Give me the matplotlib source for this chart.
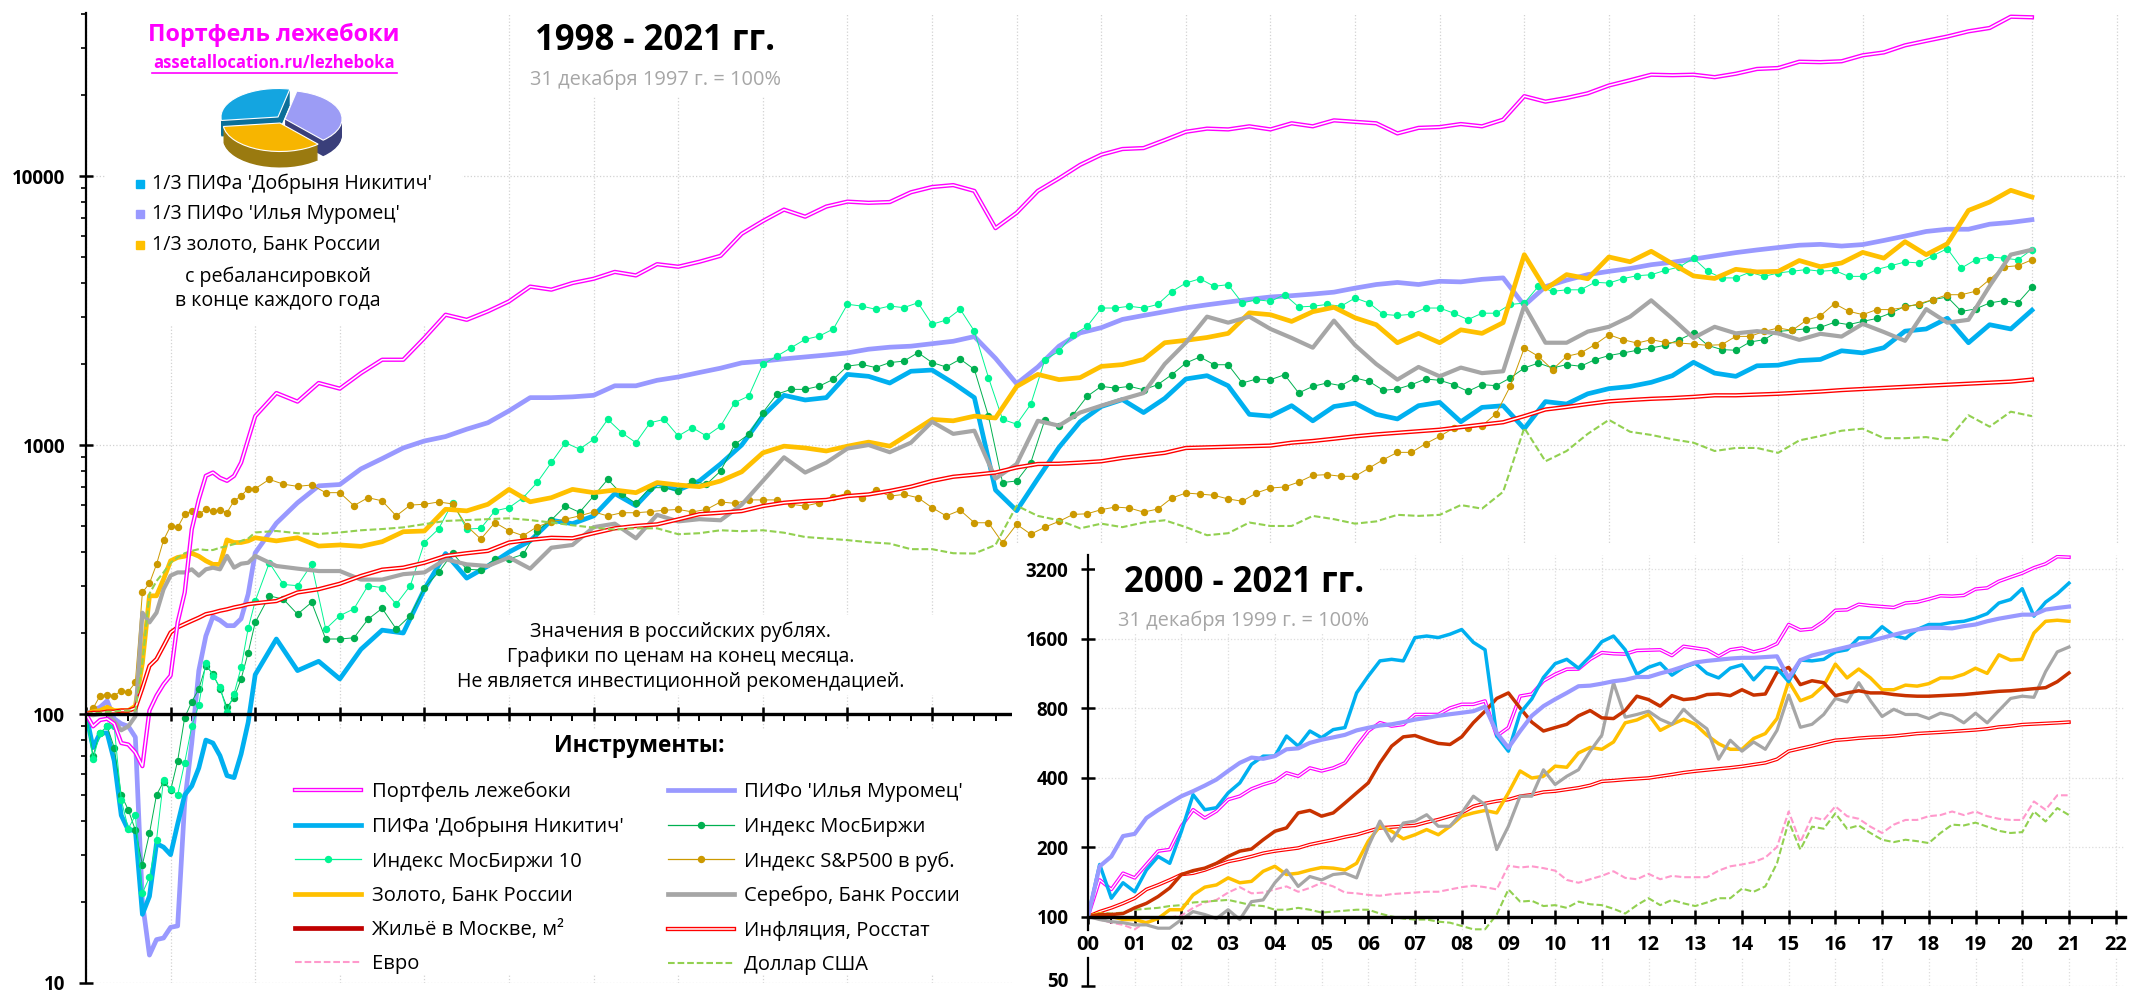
import matplotlib
matplotlib.use("Agg")
import matplotlib.pyplot as plt
import matplotlib.patheffects as pe
from matplotlib.lines import Line2D
from matplotlib.patches import Rectangle, Wedge
from matplotlib.ticker import LogLocator, MultipleLocator, NullFormatter
from matplotlib.transforms import Affine2D, blended_transform_factory

plt.rcParams["font.family"] = ["Open Sans", "DejaVu Sans"]

W, H = 2130, 994

# ---- main panel: monthly 1998-99, then quarterly (lines) or every 2 months (marker lines)
months_q = list(range(25)) + list(range(27, 277, 3))
months_m = list(range(25)) + list(range(26, 277, 2))

portfolio = [100, 90, 95, 96, 92, 78, 77, 72, 64, 103, 117, 129, 139, 219, 283, 486, 628, 768, 790, 755, 736, 768, 860, 1050, 1280,
    1560, 1450, 1700, 1620,  1850, 2075, 2075, 2500,  3050, 2920, 3140, 3420,  3880, 3780, 4000, 4150,
    4400, 4270, 4700, 4600,  4800, 5050, 6100, 6800,  7500, 7060, 7700, 8030,  7950, 8000, 8700, 9100,
    9250, 8800, 6400, 7300,  8800, 9800, 11000, 12000,  12600, 12700, 13600, 14600,  15000, 14900, 15300, 14900,
    15700, 15300, 16100, 15900,  15700, 14400, 15100, 15200,  15600, 15300, 16200, 19800,  18900, 19500, 20300, 21700,
    22700, 23800, 23700, 23800,  23300, 24000, 25000, 25200,  26600, 26500, 26700, 28100,  28800, 30600, 31800, 33000,
    34500, 35500, 39100, 38900]
muromets = [100, 103, 106, 112, 96, 92, 90, 82, 20, 12.7, 14.5, 14.7, 16.1, 16.3, 47, 78, 145, 195, 230, 223, 213, 213, 226, 279, 397,
    512, 610, 705, 713,  815, 890, 975, 1035,  1075, 1145, 1210, 1340,  1500, 1500, 1510, 1530,
    1660, 1660, 1740, 1790,  1860, 1930, 2020, 2050,  2090, 2125, 2160, 2200,  2270, 2310, 2330, 2380,
    2430, 2530, 2100, 1690,  1950, 2330, 2610, 2730,  2930, 3030, 3130, 3235,  3320, 3400, 3480, 3550,
    3590, 3640, 3700, 3830,  3950, 4020, 3950, 4060,  4040, 4130, 4180, 3300,  3880, 4100, 4300, 4420,
    4530, 4680, 4780, 4910,  5050, 5190, 5310, 5420,  5530, 5570, 5490, 5560,  5760, 5980, 6220, 6340,
    6340, 6620, 6720, 6880]
dobrynya = [100, 75, 85, 85, 67, 42, 37, 37, 18, 21, 33, 32, 30, 39, 50, 54, 63, 80, 78, 70, 59, 58, 71, 93, 140,
    190, 145, 157, 135,  174, 205, 200, 291,  395, 320, 355, 400,  440, 525, 510, 545,
    660, 595, 720, 680,  735, 850, 1000, 1280,  1530, 1470, 1500, 1830,  1800, 1700, 1880, 1900,
    1700, 1500, 680, 570,  750, 980, 1220, 1390,  1475, 1320, 1490, 1760,  1810, 1660, 1300, 1280,
    1400, 1230, 1390, 1430,  1300, 1250, 1400, 1440,  1220, 1380, 1400, 1150,  1450, 1420, 1550, 1620,
    1650, 1710, 1810, 2030,  1850, 1800, 1970, 1980,  2060, 2080, 2240, 2200,  2300, 2650, 2700, 2960,
    2400, 2800, 2700, 3170]
gold = [100, 102, 103, 106, 103, 103, 103, 107, 155, 275, 275, 317, 371, 382, 386, 396, 386, 371, 360, 360, 444, 434, 434, 440, 452,
    440, 452, 421, 425,  420, 437, 476, 479,  577, 569, 602, 684,  615, 637, 684, 665,
    680, 665, 725, 710,  700, 735, 795, 935,  990, 975, 950, 990,  1025, 990, 1110, 1245,
    1230, 1280, 1260, 1650,  1830, 1750, 1780, 1960,  1990, 2080, 2400, 2450,  2510, 2600, 3100, 3050,
    2880, 3130, 3250, 2970,  2800, 2400, 2600, 2400,  2680, 2600, 2850, 5100,  3800, 4300, 4150, 5000,
    4800, 5250, 4720, 4250,  4160, 4500, 4400, 4420,  4850, 4600, 4750, 5200,  4950, 5700, 5100, 5600,
    7450, 8000, 8850, 8350]
silver = [100, 99, 100, 100, 94, 87, 90, 98, 238, 219, 238, 291, 327, 336, 336, 345, 327, 345, 350, 345, 387, 350, 362, 365, 387,
    355, 347, 340, 340,  316, 316, 331, 336,  376, 360, 355, 382,  347, 415, 425, 495,
    510, 450, 550, 520,  530, 525, 600, 735,  900, 790, 860, 970,  1000, 940, 1020, 1220,
    1100, 1130, 750, 850,  1230, 1180, 1320, 1400,  1480, 1560, 2000, 2400,  3000, 2850, 3000, 2700,
    2500, 2300, 2900, 2350,  2000, 1750, 1950, 1800,  1940, 1850, 1880, 3300,  2400, 2400, 2640, 2750,
    3000, 3450, 2950, 2500,  2750, 2600, 2650, 2600,  2460, 2590, 2530, 2820,  2630, 2440, 3200, 2850,
    2920, 3900, 5100, 5320]
inflation = [100, 101, 101, 102, 102, 103, 103, 105, 125, 151, 160, 179, 201, 210, 216, 222, 228, 235, 238, 242, 245, 249, 252, 256, 258,
    263, 283, 291, 305,  326, 344, 350, 365,  387, 396, 404, 434,  444, 452, 450, 470,
    490, 500, 507, 529,  553, 560, 568, 593,  610, 619, 625, 646,  655, 675, 700, 735,
    762, 775, 790, 825,  850, 852, 860, 870,  895, 915, 935, 975,  980, 985, 990, 995,
    1020, 1035, 1055, 1077,  1095, 1110, 1125, 1140,  1165, 1190, 1215, 1280,  1355, 1385, 1420, 1453,
    1470, 1485, 1495, 1510,  1530, 1530, 1540, 1550,  1565, 1580, 1600, 1615,  1630, 1645, 1660, 1675,
    1690, 1705, 1720, 1750]
dollar = [100, 101, 101, 102, 102, 103, 103, 103, 155, 280, 312, 336, 365, 382, 396, 404, 410, 407, 407, 415, 421, 428, 440, 449, 473,
    479, 470, 467, 473,  482, 487, 494, 508,  522, 526, 530, 534,  526, 515, 503, 493,
    485, 490, 490, 466,  470, 482, 478, 482,  472, 455, 449, 443,  435, 430, 410, 410,
    396, 395, 425, 595,  545, 525, 490, 510,  495, 515, 525, 495,  462, 470, 515, 500,
    500, 545, 530, 510,  520, 550, 545, 550,  598, 580, 670, 1157,  870, 950, 1100, 1240,
    1120, 1090, 1050, 1020,  950, 975, 975, 935,  1040, 1080, 1130, 1150,  1060, 1060, 1070, 1040,
    1290, 1170, 1330, 1280]
sp500 = [100, 105, 117, 118, 117, 122, 121, 131, 283, 306, 360, 443, 500, 494, 552, 569, 552, 577, 569, 572, 561, 620, 647, 688, 688,
    745, 715, 702, 710, 665, 665,  595, 637, 620, 545, 598, 602,  614, 604, 500, 447, 515, 480,
    460, 497, 519, 530, 545, 564,  545, 560, 560, 565, 572, 576,  564, 576, 614, 607, 625, 625,
    625, 602, 593, 610, 641, 661,  637, 681, 646, 655, 637, 585,  545, 572, 514, 514, 433, 507,
    466, 495, 520, 552, 555, 575,  588, 583, 563, 578, 635, 663,  657, 650, 630, 618, 663, 692,
    698, 728, 771, 776, 765, 765,  821, 882, 939, 939, 1011, 1077,  1156, 1156, 1179, 1307, 1652, 2294,
    2136, 1906, 2136, 2197, 2360, 2570,  2463, 2393, 2463, 2408, 2393, 2372,  2347, 2360, 2534, 2534, 2644, 2722,
    2669, 2907, 3023, 3354, 3141, 3053,  3187, 3187, 3248, 3354, 3473, 3620,  3620, 3728, 4123, 4590, 4640, 4880]
micex = [100, 70, 85, 90, 75, 50, 44, 37, 27.5, 36, 50, 56, 52, 67, 97, 111, 124, 151, 141, 124, 106, 115, 135, 169, 219,
    275, 267, 235, 260, 190, 190,  192, 225, 247, 207, 232, 295,  336, 396, 345, 343, 377, 377,
    392, 480, 526, 594, 562, 646,  745, 656, 607, 694, 694, 674,  735, 714, 800, 1005, 1095, 1320,
    1545, 1610, 1610, 1655, 1755, 1965,  1995, 1940, 2025, 2050, 2205, 2025,  1950, 2085, 1910, 1280, 725, 735,
    860, 1242, 1173, 1296, 1517, 1652,  1627, 1652, 1605, 1676, 1825, 2017,  2125, 1988, 1988, 1700, 1759, 1749,
    1825, 1561, 1652, 1700, 1662, 1775,  1723, 1597, 1615, 1676, 1759, 1740,  1676, 1583, 1676, 1662, 1775, 1933,
    2017, 1933, 1990, 1962, 2075, 2150,  2198, 2250, 2295, 2348, 2463, 2608,  2348, 2263, 2250, 2415, 2463, 2645,
    2670, 2705, 2737, 2858, 2802, 2881,  2954, 3095, 3280, 3325, 3472, 3550,  3138, 3205, 3372, 3442, 3372, 3866]
micex10 = [100, 68, 85, 90, 90, 48, 37.5, 42, 21.6, 24.7, 34, 57, 52.5, 50, 66, 90, 108, 155, 139, 126, 102, 119, 149, 208, 263,
    365, 303, 300, 360, 207, 232,  246, 300, 295, 256, 300, 434,  487, 611, 487, 490, 569, 585,
    637, 726, 861, 1020, 965, 1050,  1245, 1110, 1020, 1210, 1245, 1080,  1160, 1080, 1175, 1437, 1520, 1995,
    2140, 2300, 2470, 2540, 2700, 3335,  3285, 3195, 3285, 3240, 3380, 2810,  2915, 3195, 2650, 1780, 1245, 1195,
    1417, 2075, 2230, 2570, 2760, 3230,  3230, 3280, 3230, 3330, 3720, 4000,  4150, 3890, 3945, 3370, 3470, 3420,
    3620, 3260, 3280, 3330, 3280, 3520,  3370, 3060, 3030, 3060, 3230, 3230,  3090, 2925, 3090, 3090, 3330, 3370,
    3890, 3725, 3775, 3775, 4025, 4000,  4155, 4260, 4295, 4460, 4590, 4950,  4425, 4180, 4180, 4390, 4235, 4360,
    4425, 4490, 4425, 4460, 4235, 4235,  4490, 4640, 4790, 4750, 5060, 5370,  4550, 4880, 5000, 4950, 4880, 5330]

# ---- inset: quarterly from 31 Dec 1999
quarters = list(range(85))
i_portfolio = [100, 144, 131, 154, 147,  168, 192, 195, 246,  290, 267, 286, 321,  332, 357, 373, 386,
    419, 405, 440, 427,  440, 463, 547, 636,  691, 668, 679, 750,  750, 750, 800, 830,
    830, 858, 605, 658,  901, 919, 1048, 1120,  1178, 1180, 1300, 1390,  1375, 1370, 1420, 1425,
    1430, 1350, 1480, 1455,  1430, 1340, 1430, 1455,  1400, 1440, 1520, 1840,  1740, 1760, 1900, 2120,
    2130, 2250, 2220, 2200,  2180, 2280, 2300, 2370,  2450, 2440, 2460, 2620,  2650, 2830, 2950, 3070,
    3240, 3370, 3620, 3600]
i_muromets = [100, 165, 182, 223, 228,  267, 289, 310, 332,  349, 369, 392, 427,  463, 488, 482, 495,
    530, 535, 565, 583,  597, 612, 640, 657,  672, 680, 695, 713,  725, 740, 752, 763,
    775, 811, 625, 538,  635, 740, 815, 873,  930, 994, 1000, 1020,  1045, 1060, 1090, 1090,
    1130, 1165, 1210, 1260,  1280, 1295, 1310, 1320,  1320, 1330, 1340, 1080,  1290, 1350, 1390, 1430,
    1470, 1510, 1560, 1610,  1660, 1710, 1750, 1780,  1780, 1770, 1810, 1840,  1900, 1950, 1990, 2030,
    2030, 2135, 2170, 2200]
i_dobrynya = [100, 168, 120, 140, 128,  159, 182, 170, 234,  337, 290, 296, 343,  379, 456, 495, 495,
    605, 547, 636, 595,  645, 658, 930, 1100,  1280, 1300, 1280, 1615,  1640, 1615, 1670, 1750,
    1540, 1430, 605, 520,  760, 875, 1085, 1245,  1300, 1190, 1340, 1550,  1640, 1430, 1120, 1200,
    1250, 1110, 1200, 1250,  1130, 1080, 1190, 1230,  1060, 1200, 1190, 1040,  1290, 1280, 1300, 1400,
    1430, 1610, 1610, 1800,  1650, 1600, 1750, 1840,  1840, 1880, 1900, 1960,  2050, 2280, 2360, 2630,
    2000, 2300, 2500, 2780]
i_gold = [100, 103, 100, 97, 97,  94, 98, 107, 107,  124, 134, 137, 147,  140, 142, 157, 165,
    152, 154, 159, 163,  162, 159, 170, 212,  246, 234, 217, 226,  238, 226, 246, 272,
    281, 288, 281, 343,  427, 398, 405, 448,  443, 511, 540, 530,  570, 690, 710, 750,
    640, 680, 715, 680,  610, 560, 530, 530,  590, 620, 720, 1045,  860, 900, 1000, 1240,
    1080, 1180, 1080, 960,  960, 1005, 995, 1020,  1080, 1080, 1120, 1190,  1130, 1360, 1290, 1300,
    1690, 1900, 1920, 1900]
i_silver = [100, 97, 95, 94, 92,  92, 89, 89, 97,  105, 102, 98, 107,  97, 116, 118, 140,
    159, 135, 149, 144,  152, 154, 147, 201,  259, 212, 254, 259,  276, 246, 246, 281,
    332, 305, 195, 246,  332, 332, 432, 373,  405, 432, 520, 610,  1030, 730, 750, 775,
    715, 680, 790, 710,  650, 480, 580, 520,  570, 530, 640, 910,  660, 680, 750, 880,
    850, 1030, 860, 735,  790, 750, 750, 720,  760, 740, 690, 760,  690, 780, 880, 900,
    890, 1150, 1400, 1470]
i_housing = [100, 102, 102, 103, 109,  114, 122, 133, 152,  158, 162, 170, 182,  192, 196, 215, 234,
    242, 281, 288, 272,  281, 310, 343, 379,  463, 547, 600, 608,  583, 562, 556, 600,
    691, 775, 880, 930,  800, 695, 636, 658,  680, 740, 780, 725,  720, 780, 900, 870,
    815, 905, 870, 880,  915, 920, 905, 960,  910, 920, 1140, 1200,  1010, 1050, 1030, 905,
    930, 950, 930, 930,  915, 905, 900, 900,  905, 910, 915, 925,  935, 945, 950, 960,
    970, 980, 1040, 1135]
i_inflation = [100, 105, 109, 114, 120,  131, 137, 144, 152,  154, 159, 166, 173,  177, 182, 188, 192,
    195, 198, 205, 210,  215, 221, 226, 234,  242, 244, 246, 248,  256, 263, 272, 281,
    300, 309, 316, 321,  332, 337, 346, 349,  355, 361, 370, 385,  388, 392, 395, 398,
    405, 412, 420, 426,  431, 436, 441, 447,  455, 463, 480, 520,  534, 548, 565, 580,
    585, 592, 597, 600,  605, 612, 620, 624,  628, 633, 638, 643,  650, 662, 668, 678,
    682, 686, 690, 695]
i_euro = [100, 97, 94, 92, 88,  95, 98, 99, 101,  109, 115, 118, 127,  134, 126, 127, 131,
    135, 128, 133, 140,  135, 127, 126, 124,  123, 125, 126, 127,  128, 128, 131, 134,
    136, 134, 131, 166,  163, 165, 162, 158,  144, 140, 145, 150,  157, 147, 145, 153,
    145, 150, 148, 148,  148, 158, 165, 168,  172, 180, 200, 285,  210, 270, 262, 300,
    272, 265, 245, 230,  250, 262, 262, 272,  275, 285, 275, 285,  272, 265, 262, 262,
    315, 290, 335, 335]
i_dollar = [100, 104, 103, 104, 107,  108, 109, 111, 112,  115, 116, 117, 118,  115, 112, 111, 107,
    107, 109, 107, 104,  105, 106, 107, 107,  103, 100, 98, 97,  97, 95, 94, 91,
    88, 88, 102, 131,  116, 117, 111, 112,  109, 116, 113, 112,  108, 103, 112, 120,
    112, 118, 114, 111,  115, 120, 120, 132,  128, 135, 170, 258,  195, 245, 240, 280,
    240, 248, 230, 215,  210, 215, 212, 208,  230, 250, 248, 255,  245, 235, 230, 232,
    285, 258, 295, 275]

yticks_main = [10, 100, 1000, 10000]
yticks_inset = [50, 100, 200, 400, 800, 1600, 3200]

C_MAGENTA, C_LILAC, C_BLUE = "#FF00FF", "#9999FF", "#00B0F0"
C_GOLD, C_GREY, C_RED = "#FFC000", "#A6A6A6", "#FF0000"
C_MICEX, C_MICEX10, C_SP = "#00B050", "#00F593", "#CC9900"
C_HOUSE, C_EURO, C_USD = "#C83200", "#FF99CC", "#92D050"

px = Affine2D().scale(1, -1).translate(0, H)  # reference pixels -> display


def double(color, outer=3.1, inner=1.1):
    return dict(color="white", lw=inner,
                path_effects=[pe.Stroke(linewidth=outer, foreground=color), pe.Normal()])


def yr(months):
    return [m / 12 for m in months]


def label(x, y, s, size=14.1, weight="normal", color="black", ha="center", z=10):
    return fig.text(x, y, s, transform=px, fontsize=size, fontweight=weight, color=color,
                    ha=ha, va="center", zorder=z)


fig = plt.figure(figsize=(W / 100, H / 100), dpi=100, facecolor="white")

# ---------------- main panel
ax = fig.add_axes([86 / W, 1 - 983 / H, (2125 - 86) / W, (983 - 13) / H], zorder=1)
ax.set_yscale("log")
ax.set_xlim(0, 24.1)
ax.set_ylim(10, 40360)
ax.set_axisbelow(True)
ax.grid(which="major", color="#d2d2d2", ls=":", lw=0.9)

mq, mm = yr(months_q), yr(months_m)
ax.plot(mq, muromets, color=C_LILAC, lw=3.4)
ax.plot(mq, dobrynya, color=C_BLUE, lw=3.4)
ax.plot(mm, micex, color=C_MICEX, lw=0.7, marker="o", ms=4.3)
ax.plot(mm, micex10, color=C_MICEX10, lw=0.7, marker="o", ms=4.3)
ax.plot(mm, sp500, color=C_SP, lw=0.7, marker="o", ms=4.3)
ax.plot(mq, gold, color=C_GOLD, lw=3.4)
ax.plot(mq, silver, color=C_GREY, lw=3.0)
ax.plot(mq, inflation, **double(C_RED))
ax.plot(mq, dollar, color=C_USD, lw=1.5, dashes=(3.2, 1.4))
ax.plot(mq, portfolio, **double(C_MAGENTA))

for s in ("top", "right"):
    ax.spines[s].set_visible(False)
ax.spines["left"].set_linewidth(1.6)
ax.spines["bottom"].set_position(("data", 100))
ax.spines["bottom"].set_linewidth(2.4)
ax.xaxis.set_major_locator(MultipleLocator(1))
ax.xaxis.set_minor_locator(MultipleLocator(0.25))
ax.tick_params(axis="x", which="major", direction="inout", length=10, width=1.8, labelbottom=False)
ax.tick_params(axis="x", which="minor", direction="out", length=5, width=1.4)
ax.set_yticks(yticks_main)
ax.set_yticklabels([str(v) for v in yticks_main], fontsize=13.5, fontweight="bold")
ax.yaxis.set_minor_locator(LogLocator(10, subs=range(2, 10), numticks=12))
ax.yaxis.set_minor_formatter(NullFormatter())
ax.tick_params(axis="y", which="major", direction="inout", length=10, width=1.8, pad=10)
ax.tick_params(axis="y", which="minor", direction="out", length=3.5, width=1.2)

# white areas that hide the gridlines behind the captions
for x0, y0, w, h in [(105, 13, 357, 312), (520, 13, 310, 84), (450, 615, 510, 80), (290, 730, 700, 245)]:
    ax.add_patch(Rectangle((x0, y0), w, h, transform=px, fc="white", ec="none", zorder=1, clip_on=False))

# legend of instruments
handles = [
    Line2D([], [], **double(C_MAGENTA)), Line2D([], [], color=C_BLUE, lw=3.4),
    Line2D([], [], color=C_MICEX10, lw=0.9, marker="o", ms=4.3), Line2D([], [], color=C_GOLD, lw=3.4),
    Line2D([], [], color="#C00000", lw=3.4), Line2D([], [], color=C_EURO, lw=1.5, dashes=(3.2, 1.4)),
    Line2D([], [], color=C_LILAC, lw=3.4), Line2D([], [], color=C_MICEX, lw=0.9, marker="o", ms=4.3),
    Line2D([], [], color=C_SP, lw=0.9, marker="o", ms=4.3), Line2D([], [], color=C_GREY, lw=3.4),
    Line2D([], [], **double(C_RED)), Line2D([], [], color=C_USD, lw=1.5, dashes=(3.2, 1.4)),
]
names = ["Портфель лежебоки", "ПИФа 'Добрыня Никитич'", "Индекс МосБиржи 10", "Золото, Банк России",
         "Жильё в Москве, м²", "Евро", "ПИФо 'Илья Муромец'", "Индекс МосБиржи", "Индекс S&P500 в руб.",
         "Серебро, Банк России", "Инфляция, Росстат", "Доллар США"]
ax.legend(handles, names, ncol=2, loc="upper left", bbox_to_anchor=(295, 782), bbox_transform=px,
          frameon=False, fontsize=14.5, handlelength=3.3, handletextpad=0.5, labelspacing=0.71,
          columnspacing=2.2, borderpad=0, borderaxespad=0)

# white ground for the inset
fig.add_artist(Rectangle((1012, 545), W - 1012, H - 545, transform=px, fc="white", ec="none", zorder=2))

# ---------------- inset panel
a2 = fig.add_axes([1088 / W, 1 - 986 / H, (2125 - 1088) / W, (986 - 555) / H], zorder=3, facecolor="none")
a2.set_yscale("log", base=2)
a2.set_xlim(0, 22.2)
a2.set_ylim(50, 3680)
a2.set_axisbelow(True)
a2.grid(which="major", color="#dcdcdc", ls=":", lw=0.9)

q = [i / 4 for i in quarters]
a2.plot(q, i_portfolio, **double(C_MAGENTA, 2.6, 0.9))
a2.plot(q, i_euro, color=C_EURO, lw=1.5, dashes=(3.2, 1.4))
a2.plot(q, i_dollar, color=C_USD, lw=1.5, dashes=(3.2, 1.4))
a2.plot(q, i_inflation, **double(C_RED, 2.6, 0.9))
a2.plot(q, i_gold, color=C_GOLD, lw=2.5)
a2.plot(q, i_silver, color=C_GREY, lw=2.3)
a2.plot(q, i_housing, color=C_HOUSE, lw=2.5)
a2.plot(q, i_dobrynya, color=C_BLUE, lw=2.5)
a2.plot(q, i_muromets, color=C_LILAC, lw=3.0)

for s in ("top", "right"):
    a2.spines[s].set_visible(False)
a2.spines["bottom"].set_position(("data", 100))
a2.spines["bottom"].set_linewidth(2.4)
a2.spines["left"].set_linewidth(1.6)
a2.spines["left"].set_bounds(87.8, 3680)  # broken behind the year labels
a2.plot([0, 0], [50, 65.8], color="black", lw=1.6, clip_on=False, zorder=2.5)
a2.set_xticks(range(23))
a2.set_yticks(yticks_inset)
# the lowest label goes in by hand further down, it would run off the figure edge
a2.set_yticklabels([""] + [str(v) for v in yticks_inset[1:]], fontsize=13.5, fontweight="bold", va="center_baseline")
a2.minorticks_off()
a2.xaxis.set_minor_locator(MultipleLocator(0.5))
a2.tick_params(axis="x", which="major", direction="inout", length=9.5, width=1.8, labelbottom=False)
a2.tick_params(axis="x", which="minor", direction="out", length=5, width=1.4)
a2.tick_params(axis="y", which="major", direction="inout", length=10, width=1.8, pad=9)

a2.add_patch(Rectangle((1080, 931), W - 1080, 27, transform=px, fc="white", ec="none", zorder=2.2, clip_on=False))
a2.add_patch(Rectangle((1095, 555), 285, 78, transform=px, fc="white", ec="none", zorder=1, clip_on=False))

# year labels sit on the white band under the axis
year_tr = blended_transform_factory(a2.transData, px)
for y in range(23):
    a2.text(y, 945, f"{y:02d}", transform=year_tr, fontsize=14.5, fontweight="bold",
            ha="center", va="center", zorder=3, clip_on=False)

# ---------------- captions
label(1069, 982, str(yticks_inset[0]), size=13.5, weight="bold", ha="right")
label(274, 35, "Портфель лежебоки", size=16.8, weight="bold", color=C_MAGENTA)
label(274, 63, "assetallocation.ru/lezheboka", size=12, weight="bold", color=C_MAGENTA)
fig.add_artist(Line2D([152, 397], [73, 73], transform=px, color=C_MAGENTA, lw=1.2, zorder=10))
label(655, 41, "1998 - 2021 гг.", size=25, weight="bold")
label(655, 80, "31 декабря 1997 г. = 100%", size=14.4, color="#A6A6A6")
for y, c, s in [(184, C_BLUE, "1/3 ПИФа 'Добрыня Никитич'"), (214, C_LILAC, "1/3 ПИФо 'Илья Муромец'"),
                (245, C_GOLD, "1/3 золото, Банк России")]:
    fig.add_artist(Line2D([140], [y], transform=px, marker="s", ms=5.5, color=c, ls="none", zorder=10))
    label(152, y, s, ha="left")
label(278, 277, "с ребалансировкой")
label(278, 300, "в конце каждого года")
label(681, 632, "Значения в российских рублях.")
label(681, 657, "Графики по ценам на конец месяца.")
label(681, 682, "Не является инвестиционной рекомендацией.")
label(639, 746, "Инструменты:", size=16.3, weight="bold")
label(1244, 583, "2000 - 2021 гг.", size=25, weight="bold")
label(1244, 621, "31 декабря 1999 г. = 100%", size=14.4, color="#A6A6A6")

# small 3-D pie of the portfolio
pie = Affine2D().scale(1, -0.5)
sectors = [(-48, 78, "#9C9CF5", "#3A3F7A", (4, -1)), (78, 187, "#14A5E0", "#0B6F99", (-3, -3)),
           (187, 312, "#F7B500", "#9A7A10", (-1, 3))]
for depth in range(16, -1, -1):
    for t1, t2, top, side, (dx, dy) in sectors:
        tr = pie + Affine2D().translate(281 + dx, 120 + dy + depth) + px
        fig.add_artist(Wedge((0, 0), 57, t1, t2, transform=tr, fc=top if depth == 0 else side,
                             ec="white" if depth == 0 else "none", lw=0.8, zorder=10))

fig.savefig("out.png", dpi=100)
